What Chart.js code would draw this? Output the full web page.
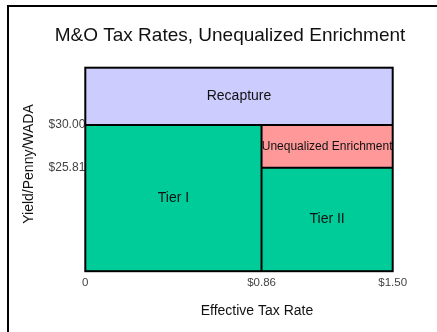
<!DOCTYPE html>
<html>
<head>
<meta charset="utf-8">
<script src="https://cdn.jsdelivr.net/npm/chart.js"></script>
<style>
  html, body { margin: 0; padding: 0; background: #fff; }
  canvas { display: block; }
</style>
</head>
<body>
<canvas id="chart" width="437" height="332"></canvas>
<script>
// Effective tax rate breakpoints (x) and yield-per-penny levels (y)
const rateBreaks = [0, 0.86, 1.50];
const yieldLevels = [25.81, 30.00];
const regionNames = ['Recapture', 'Unequalized Enrichment', 'Tier I', 'Tier II'];
const xTickValues = [0, 0.86, 1.50];
const yTickValues = [25.81, 30.00];

// visible range of the yield axis
const yMin = 15.65;
const yMax = 35.62;

const GREEN = '#00CC99';
const LAVENDER = '#CCCCFF';
const SALMON = '#FF9999';

const [r0, rMid, rMax] = rateBreaks;
const [yLow, yHigh] = yieldLevels;

const datasets = [
  { // Recapture: above the guaranteed yield, full rate range
    data: [{ x: r0, y: yHigh }, { x: rMax, y: yHigh }],
    fill: 'end', backgroundColor: LAVENDER, borderColor: '#000', borderWidth: 2
  },
  { // Tier I
    data: [{ x: r0, y: yHigh }, { x: rMid, y: yHigh }],
    fill: 'start', backgroundColor: GREEN, borderColor: '#000', borderWidth: 2
  },
  { // Unequalized enrichment band, filled down to the Tier II line
    data: [{ x: rMid, y: yHigh }, { x: rMax, y: yHigh }],
    fill: '+1', backgroundColor: SALMON, borderColor: '#000', borderWidth: 2
  },
  { // Tier II
    data: [{ x: rMid, y: yLow }, { x: rMax, y: yLow }],
    fill: 'start', backgroundColor: GREEN, borderColor: '#000', borderWidth: 2
  },
  { // divider between Tier I and the upper rate band
    data: [{ x: rMid, y: yMin }, { x: rMid, y: yHigh }],
    fill: false, borderColor: '#000', borderWidth: 2
  }
];
datasets.forEach(d => { d.pointRadius = 0; d.tension = 0; });

const labelSpots = [
  { text: regionNames[0], x: (r0 + rMax) / 2, y: (yHigh + yMax) / 2, size: 14 },
  { text: regionNames[1], x: (rMid + rMax) / 2, y: (yHigh + yLow) / 2, size: 12, clip: [rMid, rMax] },
  { text: regionNames[2], x: (r0 + rMid) / 2, y: (yMin + yHigh) / 2, size: 14 },
  { text: regionNames[3], x: (rMid + rMax) / 2, y: (yMin + yLow) / 2, size: 14 }
];

const FONT = '"Liberation Sans", Arial, sans-serif';

const decorPlugin = {
  id: 'decor',
  afterDatasetsDraw(chart) {
    const { ctx, chartArea: a, scales: { x, y } } = chart;
    ctx.save();
    // region names
    ctx.fillStyle = '#111';
    ctx.textAlign = 'center';
    ctx.textBaseline = 'middle';
    labelSpots.forEach(s => {
      ctx.save();
      if (s.clip) {
        const x0 = x.getPixelForValue(s.clip[0]);
        const x1 = x.getPixelForValue(s.clip[1]);
        ctx.beginPath();
        ctx.rect(x0, a.top, x1 - x0, a.bottom - a.top);
        ctx.clip();
      }
      ctx.font = s.size + 'px ' + FONT;
      ctx.fillText(s.text, x.getPixelForValue(s.x), y.getPixelForValue(s.y));
      ctx.restore();
    });
    // plot frame
    ctx.strokeStyle = '#000';
    ctx.lineWidth = 2;
    ctx.strokeRect(a.left, a.top, a.right - a.left, a.bottom - a.top);
    // outer frame (left and top edges)
    ctx.fillStyle = '#000';
    ctx.fillRect(7, 5, 2, chart.height - 5);
    ctx.fillRect(7, 5, chart.width - 7, 2);
    // titles
    ctx.fillStyle = '#111';
    ctx.font = '19px ' + FONT;
    ctx.fillText('M&O Tax Rates, Unequalized Enrichment', 230, 36);
    ctx.font = '14px ' + FONT;
    ctx.fillText('Effective Tax Rate', 257, 311);
    ctx.translate(29, 164);
    ctx.rotate(-Math.PI / 2);
    ctx.fillText('Yield/Penny/WADA', 0, 0);
    ctx.restore();
  }
};

new Chart(document.getElementById('chart'), {
  type: 'line',
  data: { datasets },
  options: {
    responsive: false,
    animation: false,
    layout: { padding: { top: 67.7, right: 44.3, left: 0, bottom: 0 } },
    plugins: {
      legend: { display: false },
      tooltip: { enabled: false },
      title: { display: false },
      filler: { drawTime: 'beforeDatasetsDraw' }
    },
    scales: {
      x: {
        type: 'linear',
        min: r0,
        max: rMax,
        afterBuildTicks: s => { s.ticks = xTickValues.map(v => ({ value: v })); },
        afterFit: s => { s.height = 332 - 271.2; },
        grid: { display: false, drawTicks: false },
        border: { display: false },
        ticks: {
          autoSkip: false,
          maxRotation: 0,
          padding: 5,
          color: '#444',
          font: { family: FONT, size: 11.5 },
          callback: v => (v === 0 ? '0' : '$' + v.toFixed(2))
        }
      },
      y: {
        type: 'linear',
        min: yMin,
        max: yMax,
        afterBuildTicks: s => { s.ticks = yTickValues.map(v => ({ value: v })); },
        afterFit: s => { s.width = 85.3; },
        grid: { display: false, drawTicks: false },
        border: { display: false },
        ticks: {
          autoSkip: false,
          padding: 0,
          color: '#444',
          font: { family: FONT, size: 12 },
          callback: v => '$' + v.toFixed(2)
        }
      }
    }
  },
  plugins: [decorPlugin]
});
</script>
</body>
</html>
